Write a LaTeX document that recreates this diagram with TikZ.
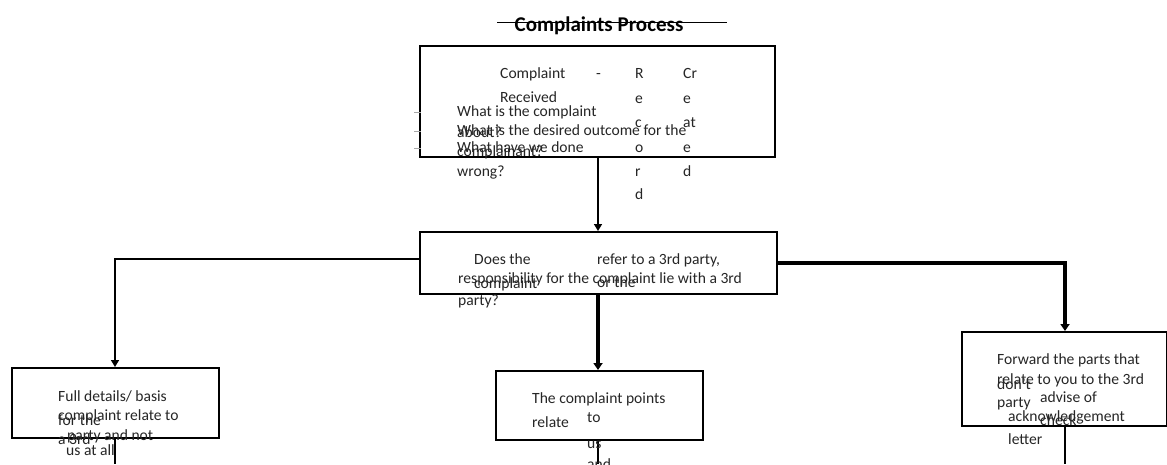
\documentclass[tikz,border=0pt]{standalone}
\usepackage{fontspec}
\setmainfont{Carlito}
\usetikzlibrary{arrows.meta}
\begin{document}
\begin{tikzpicture}[x=1pt,y=-1pt,
  box/.style={draw,line width=1.6pt,inner sep=0pt,anchor=north west},
  txt/.style={anchor=base west,inner sep=0pt,font=\fontsize{15.6}{18}\selectfont,text=black!85},
  thin/.style={line width=1.5pt,-{Triangle[length=7pt,width=8pt]}},
  thick/.style={line width=3.5pt,-{Triangle[length=7pt,width=9pt]}},
  plain/.style={line width=1.6pt},
  tick/.style={line width=0.6pt,black!35}]
\useasboundingbox[fill=white] (0,0) rectangle (1167,464);
% title
\node[anchor=base,inner sep=0pt,font=\bfseries\fontsize{21}{24}\selectfont] (title) at (599,31) {Complaints Process};
\coordinate (tl) at (497,22);
\coordinate (tr) at (727,22);
\draw[line width=1pt] (tl) -- (tr);
% boxes
\node[box,minimum width=355pt,minimum height=111pt] (b1) at (419,45) {};
\node[box,minimum width=357pt,minimum height=62pt] (b2) at (419,231) {};
\node[box,minimum width=207pt,minimum height=70pt] (b3) at (11,367) {};
\node[box,minimum width=207pt,minimum height=69pt] (b4) at (495,370) {};
\node[box,minimum width=205pt,minimum height=94pt] (b5) at (961,331) {};
% helper coordinates
\coordinate (xm) at (598,0);
\coordinate (xl) at (115,0);
\coordinate (xr) at (1065,0);
\coordinate (yl) at (0,259);
\coordinate (yr) at (0,263);
\coordinate (bl) at (115,464);
\coordinate (bm) at (598,464);
\coordinate (br) at (1065,464);
% connectors
\draw[thin] (b1.south -| xm) -- (b2.north -| xm);
\draw[thin] (b2.west |- yl) -| (b3.north -| xl);
\draw[thick] (b2.south -| xm) -- (b4.north -| xm);
\draw[thick] (b2.east |- yr) -| (b5.north -| xr);
\draw[plain] (b3.south -| xl) -- (bl);
\draw[line width=2.5pt] (b4.south -| xm) -- (bm);
\draw[plain] (b5.south -| xr) -- (br);
% bullet ticks
\coordinate (k1a) at (414,112); \coordinate (k1b) at (421,112);
\coordinate (k2a) at (414,131); \coordinate (k2b) at (421,131);
\coordinate (k3a) at (414,148); \coordinate (k3b) at (421,148);
\draw[tick] (k1a) -- (k1b);
\draw[tick] (k2a) -- (k2b);
\draw[tick] (k3a) -- (k3b);
% box 1 text
\node[txt] (t1) at (500,78) {Complaint};
\node[txt] (t2) at (596,78) {-};
\node[txt] (t3) at (635,78) {R};
\node[txt] (t4) at (683,78) {Cr};
\node[txt] (t5) at (500,102) {Received};
\node[txt] (r2) at (635,103) {e};
\node[txt] (r3) at (635,127) {c};
\node[txt] (r4) at (635,152) {o};
\node[txt] (r5) at (635,176) {r};
\node[txt] (r6) at (635,199) {d};
\node[txt] (c2) at (683,103) {e};
\node[txt] (c3) at (683,127) {at};
\node[txt] (c4) at (683,152) {e};
\node[txt] (c5) at (683,176) {d};
\node[txt] (q1) at (457,116) {What is the complaint};
\node[txt] (q1b) at (457,137) {about?};
\node[txt] (q2) at (457,135) {What is the desired outcome for the};
\node[txt] (q2b) at (457,156) {complainant?};
\node[txt] (q3) at (457,152) {What have we done};
\node[txt] (q3b) at (457,176) {wrong?};
% box 2 text
\node[txt] (d1) at (474,264) {Does the};
\node[txt] (d2) at (597,264) {refer to a 3rd party,};
\node[txt] (d3) at (458,283) {responsibility for the complaint lie with a 3rd};
\node[txt] (d4) at (474,288) {complaint};
\node[txt] (d5) at (597,287) {or the};
\node[txt] (d6) at (458,305) {party?};
% box 3 text
\node[txt] (f1) at (58,401) {Full details/ basis};
\node[txt] (f2) at (58,420) {complaint relate to};
\node[txt] (f3) at (58,425) {for the};
\node[txt] (f4) at (67,440) {party and not};
\node[txt] (f5) at (58,444) {a 3rd};
\node[txt] (f6) at (66,455) {us at all};
% box 4 text
\node[txt] (p1) at (532,403) {The complaint points};
\node[txt] (p2) at (532,427) {relate};
\node[txt] (p3) at (587,422) {to};
\node[txt] (p4) at (587,448) {us};
\node[txt] (p5) at (587,469) {and};
% box 5 text
\node[txt] (w1) at (997,364) {Forward the parts that};
\node[txt] (w2) at (997,384) {relate to you to the 3rd};
\node[txt] (w3) at (997,389) {don't};
\node[txt] (w4) at (997,407) {party};
\node[txt] (w5) at (1040,402) {advise of};
\node[txt] (w6) at (1008,421) {acknowledgement};
\node[txt] (w7) at (1040,425) {check};
\node[txt] (w8) at (1008,444) {letter};
\end{tikzpicture}
\end{document}
